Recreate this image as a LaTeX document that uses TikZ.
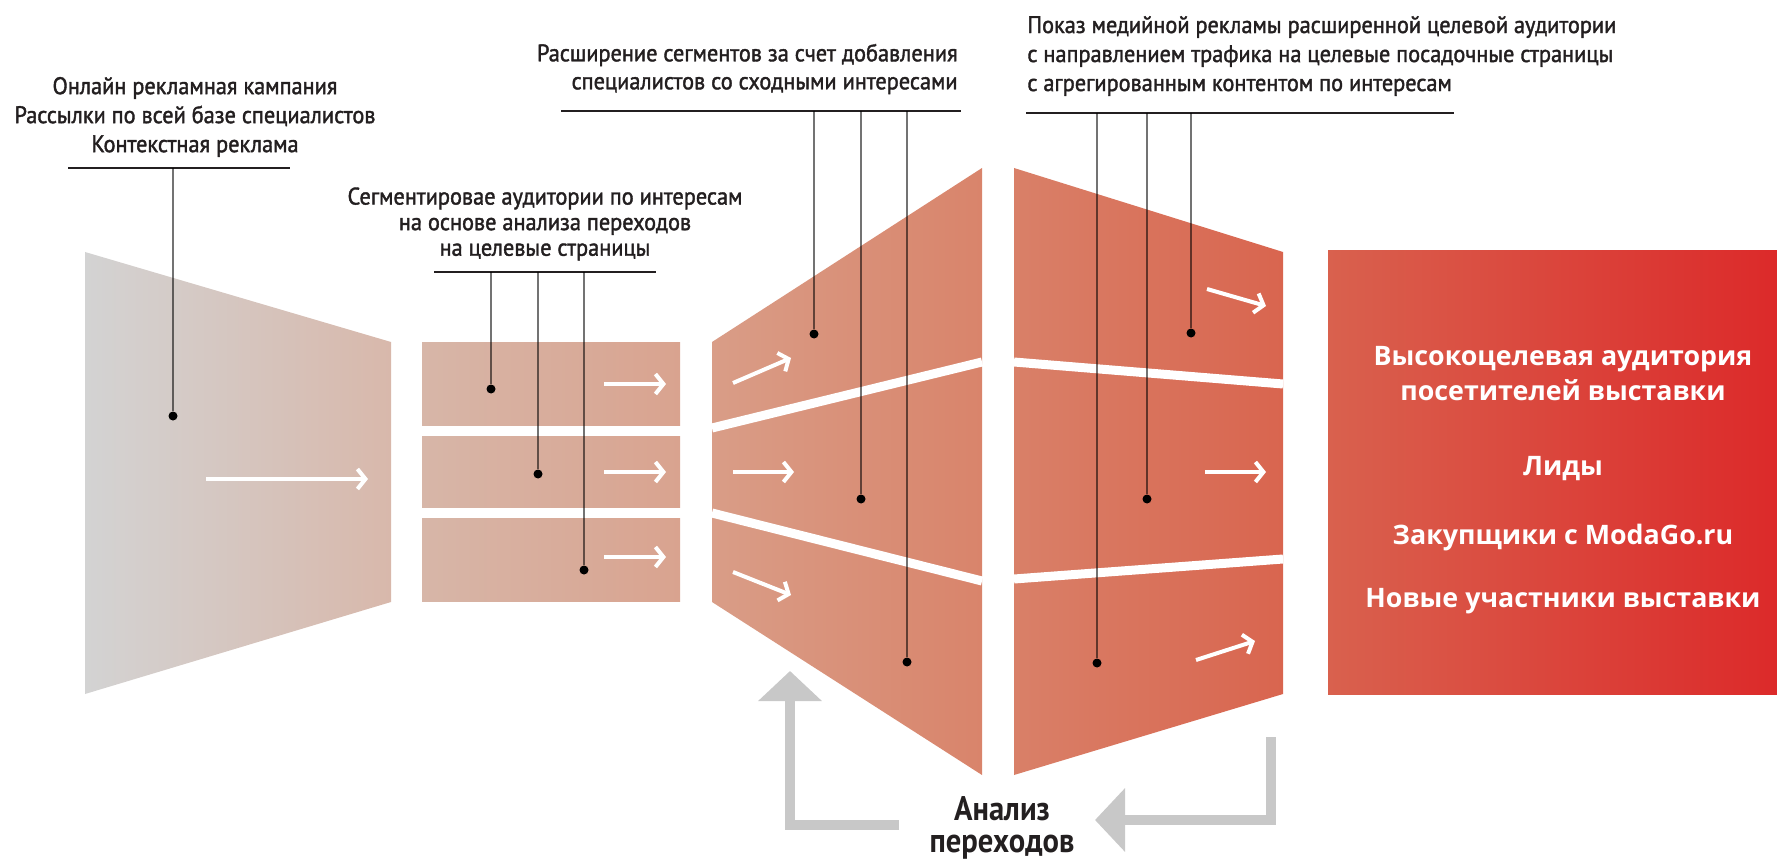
\documentclass[tikz,border=0pt]{standalone}
\usepackage{fontspec}
\setmainfont{PT Sans}
\newfontfamily\capfont[FakeStretch=0.93, FakeBold=1.6]{PT Sans}
\newfontfamily\analysisfont[FakeStretch=0.9]{PT Sans}
\newfontfamily\resultfont{Open Sans}
\usetikzlibrary{arrows.meta}

\definecolor{textgray}{HTML}{231F20}
\definecolor{grayL}{HTML}{D3D3D3}
\definecolor{grayR}{HTML}{D8B8AB}
\definecolor{segL}{HTML}{D7B6A8}
\definecolor{segR}{HTML}{D9A38F}
\definecolor{wideL}{HTML}{D99D87}
\definecolor{wideR}{HTML}{D9846B}
\definecolor{mediaL}{HTML}{D98068}
\definecolor{mediaR}{HTML}{D9654F}
\definecolor{leadL}{HTML}{D9614E}
\definecolor{leadR}{HTML}{DC2A2A}
\definecolor{backgray}{HTML}{C8C8C8}

\begin{document}
\begin{tikzpicture}[x=0.5pt, y=-0.5pt]
    % Styles
    \tikzstyle{caption} = [font=\capfont\fontsize{12}{14}\selectfont, text=textgray, inner sep=0pt]
    \tikzstyle{rule} = [line width=1.1pt, draw=textgray]
    \tikzstyle{leader} = [line width=0.7pt, draw=black, opacity=0.55]
    \tikzstyle{leaddot} = [circle, fill=black, inner sep=0pt, minimum size=4.5pt]
    \tikzstyle{flow} = [draw=white, line width=2pt, -{Straight Barb[length=4pt, width=10pt]}]
    \tikzstyle{gap} = [draw=white, line width=4.5pt]
    \tikzstyle{backarrow} = [draw=backgray, line width=5pt, miter limit=4, -{Triangle[length=15pt, width=31pt]}]
    \tikzstyle{resulttext} = [font=\resultfont\bfseries\fontsize{13.4}{17.5}\selectfont, text=white, align=center]

    \useasboundingbox (0,0) rectangle (1777,861);

    % Воронка
    \shade[left color=grayL, right color=grayR] (85,252) -- (391,342) -- (391,602) -- (85,694) -- cycle;
    \shade[left color=segL, right color=segR] (422,342) rectangle (680,425);
    \shade[left color=segL, right color=segR] (422,436) rectangle (680,507);
    \shade[left color=segL, right color=segR] (422,518) rectangle (680,601);
    \shade[left color=wideL, right color=wideR] (712,342) -- (982,168) -- (982,775) -- (712,602) -- cycle;
    \draw [gap] (712,428) -- (982,362);
    \draw [gap] (712,513) -- (982,581);
    \shade[left color=mediaL, right color=mediaR] (1014,168) -- (1283,252) -- (1283,694) -- (1014,775) -- cycle;
    \draw [gap] (1014,362) -- (1283,384);
    \draw [gap] (1014,579) -- (1283,559);
    \shade[left color=leadL, right color=leadR] (1328,251) rectangle (1777,694);

    % Стрелки
    \draw [flow] (206,479) -- (368,479);
    \foreach \y in {384,472,557}
        \draw [flow] (604,\y) -- (666,\y);
    \draw [flow] (733,383) -- (791,358);
    \draw [flow] (733,472) -- (794,472);
    \draw [flow] (733,572) -- (791,595);
    \draw [flow] (1207,289) -- (1266,306);
    \draw [flow] (1205,472) -- (1266,472);
    \draw [flow] (1196,660) -- (1255,641);

    % Подписи
    \node (online) [caption, align=center, font=\capfont\fontsize{12}{14.5}\selectfont] at (195,117)
        {Онлайн рекламная кампания\\Рассылки по всей базе специалистов\\Контекстная реклама};
    \node (segment) [caption, align=center, font=\capfont\fontsize{12}{12.8}\selectfont] at (545,224)
        {Сегментировае аудитории по интересам\\на основе анализа переходов\\на целевые страницы};
    \node (expand) [caption, align=right, anchor=east] at (958,69)
        {Расширение сегментов за счет добавления\\специалистов со сходными интересами};
    \node (media) [caption, align=left, anchor=west, font=\capfont\fontsize{12}{14.5}\selectfont] at (1027,56)
        {Показ медийной рекламы расширенной целевой аудитории\\с направлением трафика на целевые посадочные страницы\\с агрегированным контентом по интересам};

    \draw [rule] (68,168) -- (290,168);
    \draw [rule] (434,272) -- (656,272);
    \draw [rule] (561,111) -- (961,111);
    \draw [rule] (1026,113) -- (1454,113);

    % Выноски
    \coordinate (r1) at (173,168);
    \coordinate (r2a) at (491,272);
    \coordinate (r2b) at (538,272);
    \coordinate (r2c) at (584,272);
    \coordinate (r3a) at (814,111);
    \coordinate (r3b) at (861,111);
    \coordinate (r3c) at (907,111);
    \coordinate (r4a) at (1097,113);
    \coordinate (r4b) at (1147,113);
    \coordinate (r4c) at (1191,113);

    \node (d1) [leaddot] at (173,416) {};
    \node (d2a) [leaddot] at (491,389) {};
    \node (d2b) [leaddot] at (538,474) {};
    \node (d2c) [leaddot] at (584,570) {};
    \node (d3a) [leaddot] at (814,334) {};
    \node (d3b) [leaddot] at (861,499) {};
    \node (d3c) [leaddot] at (907,662) {};
    \node (d4a) [leaddot] at (1097,663) {};
    \node (d4b) [leaddot] at (1147,499) {};
    \node (d4c) [leaddot] at (1191,333) {};

    \foreach \r/\d in {r1/d1, r2a/d2a, r2b/d2b, r2c/d2c, r3a/d3a, r3b/d3b, r3c/d3c, r4a/d4a, r4b/d4b, r4c/d4c}
        \draw [leader] (\r) -- (\d);

    % Результат
    \node (audience) [resulttext] at (1563,374) {Высокоцелевая аудитория\\посетителей выставки};
    \node (leads) [resulttext] at (1563,469) {Лиды};
    \node (buyers) [resulttext] at (1563,538) {Закупщики с ModaGo.ru};
    \node (exhibitors) [resulttext] at (1563,601) {Новые участники выставки};

    % Анализ переходов
    \node (analysis) [caption, align=center, font=\analysisfont\bfseries\fontsize{17}{16}\selectfont] at (1002,828)
        {Анализ\\переходов};
    \coordinate (upfoot) at (899,825);
    \coordinate (uptip) at (790,671);
    \coordinate (backtop) at (1271,737);
    \coordinate (backtip) at (1095,820);
    \draw [backarrow] (upfoot) -- (upfoot -| uptip) -- (uptip);
    \draw [backarrow] (backtop) -- (backtop |- backtip) -- (backtip);
\end{tikzpicture}
\end{document}
